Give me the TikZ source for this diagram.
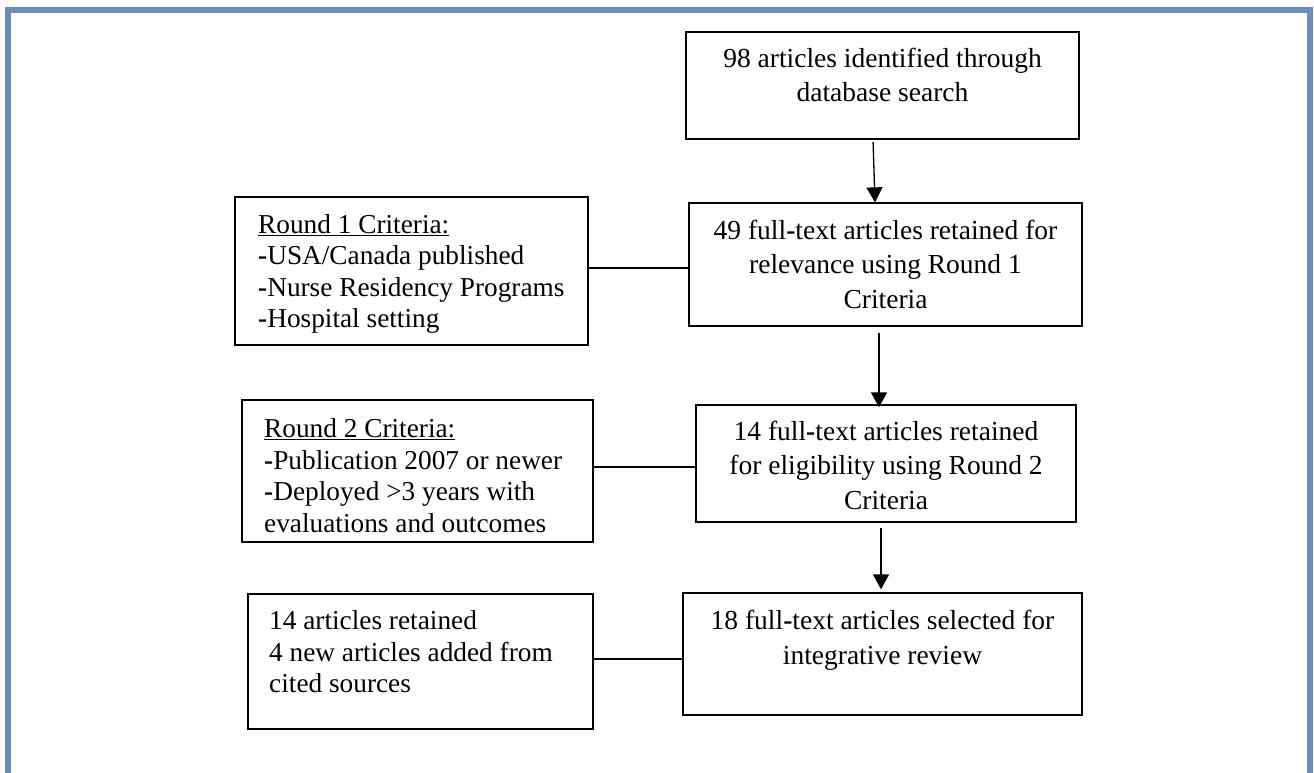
\documentclass[tikz,border=0pt]{standalone}
\usepackage{fontspec}
\setmainfont{Liberation Serif}
\usetikzlibrary{arrows.meta}
\definecolor{frameblue}{RGB}{108,140,185}
\begin{document}
\begin{tikzpicture}[x=1pt,y=-1pt,
  box/.style={draw=black, line width=1.3pt, rectangle, inner sep=0pt},
  ctext/.style={align=center, inner sep=0pt, anchor=north},
  ltext/.style={align=left, inner sep=0pt, anchor=north west, font=\fontsize{27.3}{31.6}\selectfont},
  arr/.style={-{Triangle[width=16pt,length=15pt]}, line width=1.3pt},
  link/.style={line width=2.2pt}]
\clip (0,0) rectangle (1314,773);
\fill[white] (0,0) rectangle (1314,773);
\draw[frameblue, line width=6pt] (8,10) rectangle (1310,900);

% right column boxes
\node[box, minimum width=393pt, minimum height=107pt] (b1) at (882.5,85.5) {};
\node[box, minimum width=393pt, minimum height=123pt] (b2) at (885.5,264.5) {};
\node[box, minimum width=380pt, minimum height=117pt] (b3) at (886,463.5) {};
\node[box, minimum width=399pt, minimum height=122pt] (b4) at (882.5,654) {};
% left column boxes
\node[box, minimum width=353pt, minimum height=148pt] (l1) at (411.5,271) {};
\node[box, minimum width=351pt, minimum height=142pt] (l2) at (417.5,471) {};
\node[box, minimum width=345pt, minimum height=135pt] (l3) at (420.5,661.5) {};

% texts
\node[ctext, font=\fontsize{27.5}{33.5}\selectfont] (t1) at (882.5,44.3)
  {\strut 98 articles identified through\\database search};
\node[ctext, font=\fontsize{27.5}{34.5}\selectfont] (t2) at (885.5,215)
  {\strut 49 full\textbf{-}text articles retained for\\relevance using Round 1\\Criteria};
\node[ctext, font=\fontsize{27.5}{34.5}\selectfont] (t3) at (886,416)
  {\strut 14 full\textbf{-}text articles retained\\for eligibility using Round 2\\Criteria};
\node[ctext, font=\fontsize{27.5}{34.5}\selectfont] (t4) at (882.5,605.5)
  {\strut 18 full\textbf{-}text articles selected for\\integrative review};

\node[ltext] (s1) at (258,210.8)
  {\strut\underline{Round 1 Criteria:}\\\textbf{-}USA/Canada published\\\textbf{-}Nurse Residency Programs\\\textbf{-}Hospital setting};
\node[ltext] (s2) at (264,415.3)
  {\strut\underline{Round 2 Criteria:}\\\textbf{-}Publication 2007 or newer\\\textbf{-}Deployed >3 years with\\evaluations and outcomes};
\node[ltext] (s3) at (269,607.3)
  {\strut 14 articles retained\\4 new articles added from\\cited sources};

% arrows
\draw[arr, shorten <=2.5pt] ([xshift=-9.5pt]b1.south) -- ([xshift=-10.5pt]b2.north);
\draw[arr, shorten <=6pt, shorten >=-3pt] ([xshift=-6.5pt]b2.south) -- ([xshift=-7pt]b3.north);
\draw[arr, shorten <=5pt, shorten >=3pt] ([xshift=-5pt]b3.south) -- ([xshift=-1.5pt]b4.north);

% links
\draw[link] ([yshift=3pt]l1.east) -- ([yshift=3pt]l1.east -| b2.west);
\draw[link] ([yshift=4pt]l2.east) -- ([yshift=4pt]l2.east -| b3.west);
\draw[link] ([yshift=2.5pt]l3.east) -- ([yshift=2.5pt]l3.east -| b4.west);
\end{tikzpicture}
\end{document}
